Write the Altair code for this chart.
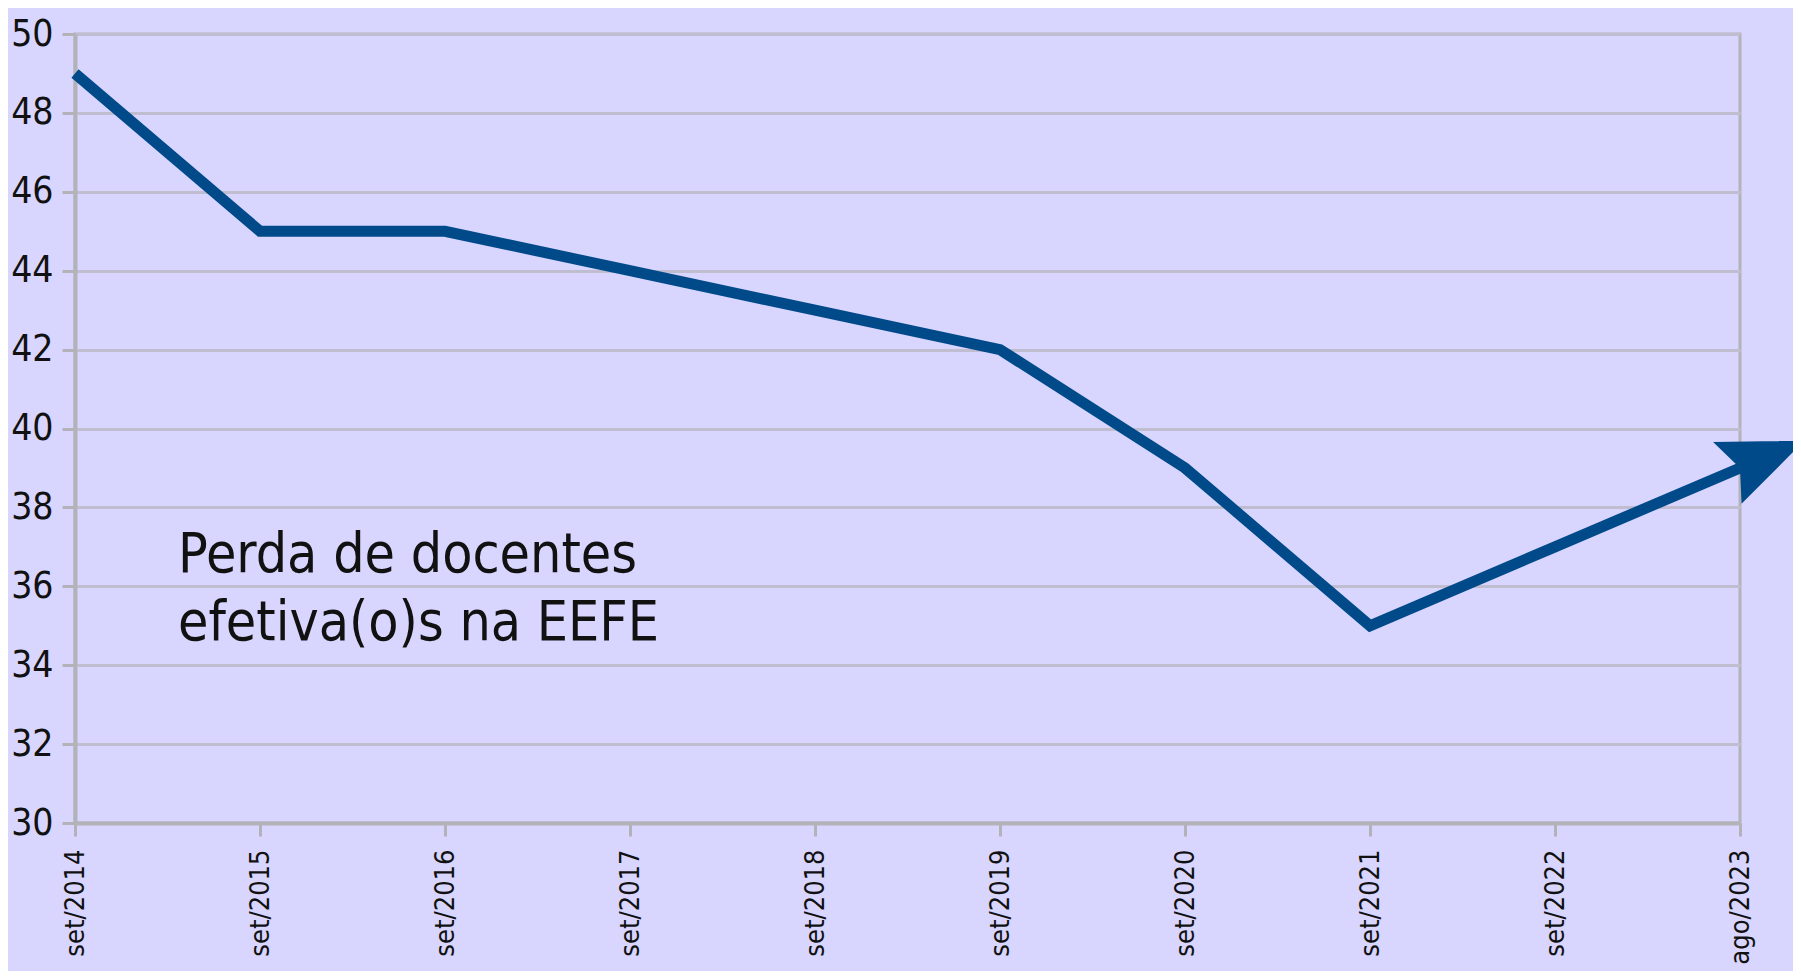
import altair as alt
import pandas as pd

periods = ["set/2014", "set/2015", "set/2016", "set/2017", "set/2018",
           "set/2019", "set/2020", "set/2021", "set/2022", "ago/2023"]
docentes = [49, 45, 45, 44, 43, 42, 39, 35, 37, 39]
y_ticks = list(range(30, 51, 2))
note_lines = ["Perda de docentes", "efetiva(o)s na EEFE"]

df = pd.DataFrame({"periodo": periods, "docentes": docentes})
last = df.tail(1)

FONT = "Liberation Sans Narrow, DejaVu Sans Condensed, Roboto, sans-serif"
BG = "#D8D6FF"
LINE = "#004A8A"
GRID = "#BFBDCF"
AXIS = "#B2B2B8"

W, H = 1665, 789

x = alt.X("periodo:N", sort=periods, title=None,
          scale=alt.Scale(type="point", padding=0),
          axis=alt.Axis(labelAngle=270, labelAlign="right", labelBaseline="middle",
                        labelFontSize=27, labelPadding=13, labelColor="#111111",
                        labelFont=FONT, tickSize=13, tickWidth=3, tickColor=AXIS,
                        domainColor=AXIS, domainWidth=4, grid=False))
y = alt.Y("docentes:Q", title=None,
          scale=alt.Scale(domain=[30, 50], nice=False, zero=False),
          axis=alt.Axis(values=y_ticks, labelFontSize=37, labelPadding=9,
                        labelColor="#111111", labelFont=FONT, tickSize=13, tickWidth=3,
                        tickColor=AXIS, domainColor=AXIS, domainWidth=4,
                        grid=True, gridColor=GRID, gridWidth=3))

line = alt.Chart(df).mark_line(color=LINE, strokeWidth=11, strokeJoin="miter",
                               strokeCap="butt").encode(x=x, y=y)

arrow_shape = "M 1 0 L -0.21 -0.49 L 0 0 L -0.18 0.48 Z"
arrow = alt.Chart(last).mark_point(shape=arrow_shape, filled=True, color=LINE,
                                   opacity=1, size=19600, angle=337, strokeWidth=0).encode(x=x, y=y)

note = alt.Chart(pd.DataFrame({"t": [note_lines]})).mark_text(
    align="left", baseline="alphabetic", fontSize=55, lineHeight=68,
    font=FONT, color="#111111").encode(
    text="t:N", x=alt.value(103), y=alt.value(538))

chart = alt.layer(line, arrow, note).properties(
    width=W, height=H, background=BG,
    autosize=alt.AutoSizeParams(type="none"),
    padding={"left": 67, "top": 26, "right": 53, "bottom": 148},
).configure_view(stroke=AXIS, strokeWidth=3)

chart.save("out.html", embed_options={"renderer": "svg", "actions": False})
